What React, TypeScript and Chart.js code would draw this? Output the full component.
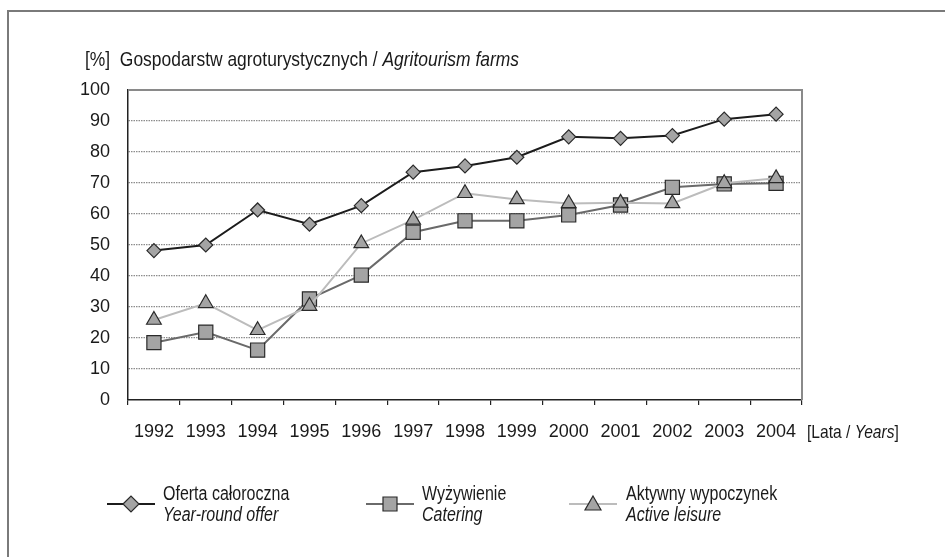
import React, { useEffect, useRef } from 'react';
import { Chart, registerables } from 'chart.js';

Chart.register(...registerables);

const years = ['1992', '1993', '1994', '1995', '1996', '1997', '1998', '1999', '2000', '2001', '2002', '2003', '2004'];
const yearRoundOffer = [48.2, 50.0, 61.3, 56.7, 62.7, 73.5, 75.5, 78.3, 84.9, 84.4, 85.3, 90.6, 92.2];
const catering = [18.5, 21.9, 16.1, 32.6, 40.3, 54.1, 57.8, 57.8, 59.7, 62.9, 68.6, 69.7, 69.9];
const activeLeisure = [25.8, 31.2, 22.5, 30.3, 50.5, 58.1, 66.7, 64.7, 63.4, 63.6, 63.4, 69.9, 71.5];

const yMin = 0;
const yMax = 100;
const yStep = 10;

const titlePl = 'Gospodarstw agroturystycznych / ';
const titleEn = 'Agritourism farms';
const xSuffixPl = '[Lata / ';
const xSuffixEn = 'Years';
const legendPl = ['Oferta całoroczna', 'Wyżywienie', 'Aktywny wypoczynek'];
const legendEn = ['Year-round offer', 'Catering', 'Active leisure'];

const FONT = '"Liberation Sans", Arial, sans-serif';
const TEXT = '#1a1a1a';
const MARKER_FILL = '#a4a4a4';
const MARKER_BORDER = '#2a2a2a';
const LINE_COLORS = ['#1c1c1c', '#6a6a6a', '#bcbcbc'];
const POINT_STYLES = ['rectRot', 'rect', 'triangle'];

function drawMarker(ctx: CanvasRenderingContext2D, style: string, x: number, y: number) {
  ctx.beginPath();
  if (style === 'rectRot') {
    const r = 8;
    ctx.moveTo(x - r, y);
    ctx.lineTo(x, y - r);
    ctx.lineTo(x + r, y);
    ctx.lineTo(x, y + r);
    ctx.closePath();
  } else if (style === 'rect') {
    const s = 7;
    ctx.rect(x - s, y - s, 2 * s, 2 * s);
  } else {
    const w = 8;
    ctx.moveTo(x, y - 8);
    ctx.lineTo(x + w, y + 6);
    ctx.lineTo(x - w, y + 6);
    ctx.closePath();
  }
  ctx.fillStyle = MARKER_FILL;
  ctx.fill();
  ctx.lineWidth = 1.2;
  ctx.strokeStyle = MARKER_BORDER;
  ctx.stroke();
}

const legendX = [107, 366, 569];
const legendW = 48;
const legendY = 504;

const decorPlugin = {
  id: 'decor',
  afterDraw(chart: any) {
    const ctx: CanvasRenderingContext2D = chart.ctx;
    const { left, right, top, bottom } = chart.chartArea;
    ctx.save();
    ctx.strokeStyle = '#8a8a8a';
    ctx.lineWidth = 2;
    ctx.beginPath();
    ctx.moveTo(left, top);
    ctx.lineTo(right, top);
    ctx.lineTo(right, bottom);
    ctx.stroke();
    for (let i = 0; i < 3; i++) {
      const x0 = legendX[i];
      ctx.strokeStyle = LINE_COLORS[i];
      ctx.lineWidth = 2;
      ctx.beginPath();
      ctx.moveTo(x0, legendY);
      ctx.lineTo(x0 + legendW, legendY);
      ctx.stroke();
      drawMarker(ctx, POINT_STYLES[i], x0 + legendW / 2, legendY);
    }
    ctx.restore();
  },
};

export default function App() {
  const canvasRef = useRef<HTMLCanvasElement | null>(null);

  useEffect(() => {
    document.body.style.margin = '0';
    const canvas = canvasRef.current;
    if (!canvas) return;
    const mk = (label: string, data: number[], i: number, radius: number, order: number) => ({
      label,
      data,
      borderColor: LINE_COLORS[i],
      borderWidth: 2,
      backgroundColor: MARKER_FILL,
      pointStyle: POINT_STYLES[i],
      pointRadius: radius,
      pointHoverRadius: radius,
      pointBackgroundColor: MARKER_FILL,
      pointBorderColor: MARKER_BORDER,
      pointBorderWidth: 1.2,
      tension: 0,
      fill: false,
      order,
    });
    const chart = new Chart(canvas, {
      type: 'line',
      data: {
        labels: years,
        datasets: [
          mk(legendPl[0], yearRoundOffer, 0, 7, 2),
          mk(legendPl[1], catering, 1, 10, 1),
          mk(legendPl[2], activeLeisure, 2, 8.5, 0),
        ],
      },
      options: {
        animation: false,
        responsive: false,
        maintainAspectRatio: false,
        devicePixelRatio: 1,
        layout: { padding: { top: 90, right: 143, bottom: 0, left: 0 } },
        plugins: {
          legend: { display: false },
          tooltip: { enabled: false },
          title: { display: false },
        },
        scales: {
          x: {
            type: 'category',
            offset: true,
            grid: {
              offset: true,
              drawOnChartArea: false,
              drawTicks: true,
              tickLength: 5,
              color: '#222',
              lineWidth: 1.2,
            },
            border: { display: true, color: '#222', width: 1.5 },
            ticks: {
              color: TEXT,
              font: { family: FONT, size: 18 },
              padding: 16,
              maxRotation: 0,
              autoSkip: false,
            },
            afterFit: (scale: any) => {
              scale.height = 157;
            },
          },
          y: {
            min: yMin,
            max: yMax,
            grid: {
              drawTicks: false,
              color: (c: any) => (c.tick && (c.tick.value === yMin || c.tick.value === yMax) ? 'rgba(0,0,0,0)' : '#8c8c8c'),
              lineWidth: 1.2,
            },
            border: { display: true, color: '#222', width: 1.5, dash: [1.5, 1] },
            ticks: {
              stepSize: yStep,
              color: TEXT,
              font: { family: FONT, size: 18 },
              padding: 18,
            },
            afterFit: (scale: any) => {
              scale.width = 128;
            },
          },
        },
      },
      plugins: [decorPlugin],
    } as any);
    return () => chart.destroy();
  }, []);

  const textBase: React.CSSProperties = {
    position: 'absolute',
    fontFamily: FONT,
    color: TEXT,
    whiteSpace: 'nowrap',
    transformOrigin: '0 50%',
  };

  const legendTextX = [163, 422, 626];

  return (
    <div style={{ position: 'fixed', left: 0, top: 0, width: 945, height: 557, overflow: 'hidden', background: '#fff' }}>
      <div
        style={{
          position: 'absolute',
          left: 7,
          top: 10,
          width: 1100,
          height: 700,
          border: '2px solid #7a7a7a',
          boxSizing: 'border-box',
        }}
      />
      <canvas ref={canvasRef} width={945} height={557} style={{ position: 'absolute', left: 0, top: 0, width: 945, height: 557 }} />
      <div style={{ ...textBase, left: 85, top: 48, fontSize: 21, lineHeight: '22px', transform: 'scaleX(0.83)' }}>
        [%]{'\u00a0 '}{titlePl}
        <i>{titleEn}</i>
      </div>
      <div style={{ ...textBase, left: 807, top: 421, fontSize: 19, lineHeight: '22px', transform: 'scaleX(0.82)' }}>
        {xSuffixPl}
        <i>{xSuffixEn}</i>]
      </div>
      {legendPl.map((pl, i) => (
        <div
          key={pl}
          style={{ ...textBase, left: legendTextX[i], top: 483, fontSize: 20, lineHeight: '21px', transform: 'scaleX(0.8)' }}
        >
          <div>{pl}</div>
          <div style={{ fontStyle: 'italic' }}>{legendEn[i]}</div>
        </div>
      ))}
    </div>
  );
}
